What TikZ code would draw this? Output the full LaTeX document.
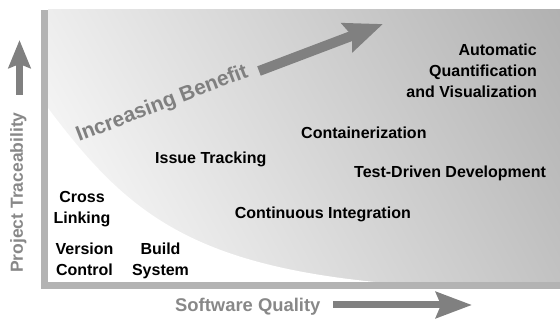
\documentclass[tikz,border=0pt]{standalone}
\usepackage{fontspec}
\setmainfont{Liberation Sans}
\usetikzlibrary{arrows.meta,shadings}
\definecolor{axisgray}{HTML}{B3B3B3}
\definecolor{arrowgray}{HTML}{808080}
\definecolor{labelgray}{HTML}{888888}
\definecolor{bgA}{HTML}{EDEDED}
\definecolor{bgB}{HTML}{B1B1B1}
\definecolor{bgC}{HTML}{C2C2C2}
\begin{document}
\begin{tikzpicture}[x=1pt,y=-1pt,
  item/.style={font=\fontsize{16}{21}\selectfont\bfseries, text=black, inner sep=0pt},
  axislabel/.style={font=\fontsize{18.4}{22}\selectfont\bfseries, text=labelgray, inner sep=0pt},
  bigarrow/.style={draw=arrowgray, line width=7pt, -{Stealth[length=36pt,width=26pt,inset=5pt]}}]
\useasboundingbox (0,0) rectangle (560,320);
% background
\shade[upper left=bgA, upper right=bgB, lower right=bgC, lower left=white] (48,10) rectangle (560,282);
\fill[white] (48,108) .. controls (123.5,208.8) and (186,263) .. (375,282) -- (48,282) -- cycle;
% axes
\fill[axisgray] (41,10) rectangle (48,289);
\fill[axisgray] (41,282) rectangle (560,289);
% items (anchor base = baseline of the last line)
\node[item, align=right, anchor=base east] (auto) at (537,97.5) {Automatic\\Quantification\\and Visualization};
\node[item, anchor=base west] (cont) at (301,139) {Containerization};
\node[item, anchor=base west] (tdd) at (354,178) {Test-Driven Development};
\node[item, anchor=base east] (ci) at (411,219) {Continuous Integration};
\node[item, anchor=base west] (issue) at (155,163.5) {Issue Tracking};
\node[item, align=center, anchor=base] (cross) at (82,223.5) {Cross\\Linking};
\node[item, align=center, anchor=base] (vc) at (84.5,275.7) {Version\\Control};
\node[item, align=center, anchor=base] (build) at (160.5,275.7) {Build\\System};
% axis labels
\node[axislabel, anchor=base west] (xlabel) at (175,312) {Software Quality};
\node[axislabel, font=\fontsize{17.5}{22}\selectfont\bfseries, rotate=90, anchor=base west] (ylabel) at (23,273) {Project Traceability};
\node[axislabel, font=\fontsize{21}{24}\selectfont\bfseries, text=arrowgray, rotate=21, anchor=base west] (benefit) at (79,142) {Increasing Benefit};
% arrows
\coordinate (xa1) at (333,305);
\coordinate (xa2) at (472,305);
\coordinate (ya1) at (19.5,95);
\coordinate (ya2) at (19.5,40);
\coordinate (ba1) at (259,71);
\coordinate (ba2) at (383,24);
\draw[bigarrow] (xa1) -- (xa2);
\draw[bigarrow, -{Stealth[length=28pt,width=22pt,inset=4pt]}] (ya1) -- (ya2);
\draw[bigarrow, line width=10pt, -{Stealth[length=38pt,width=30pt,inset=5pt]}] (ba1) -- (ba2);
\end{tikzpicture}
\end{document}
